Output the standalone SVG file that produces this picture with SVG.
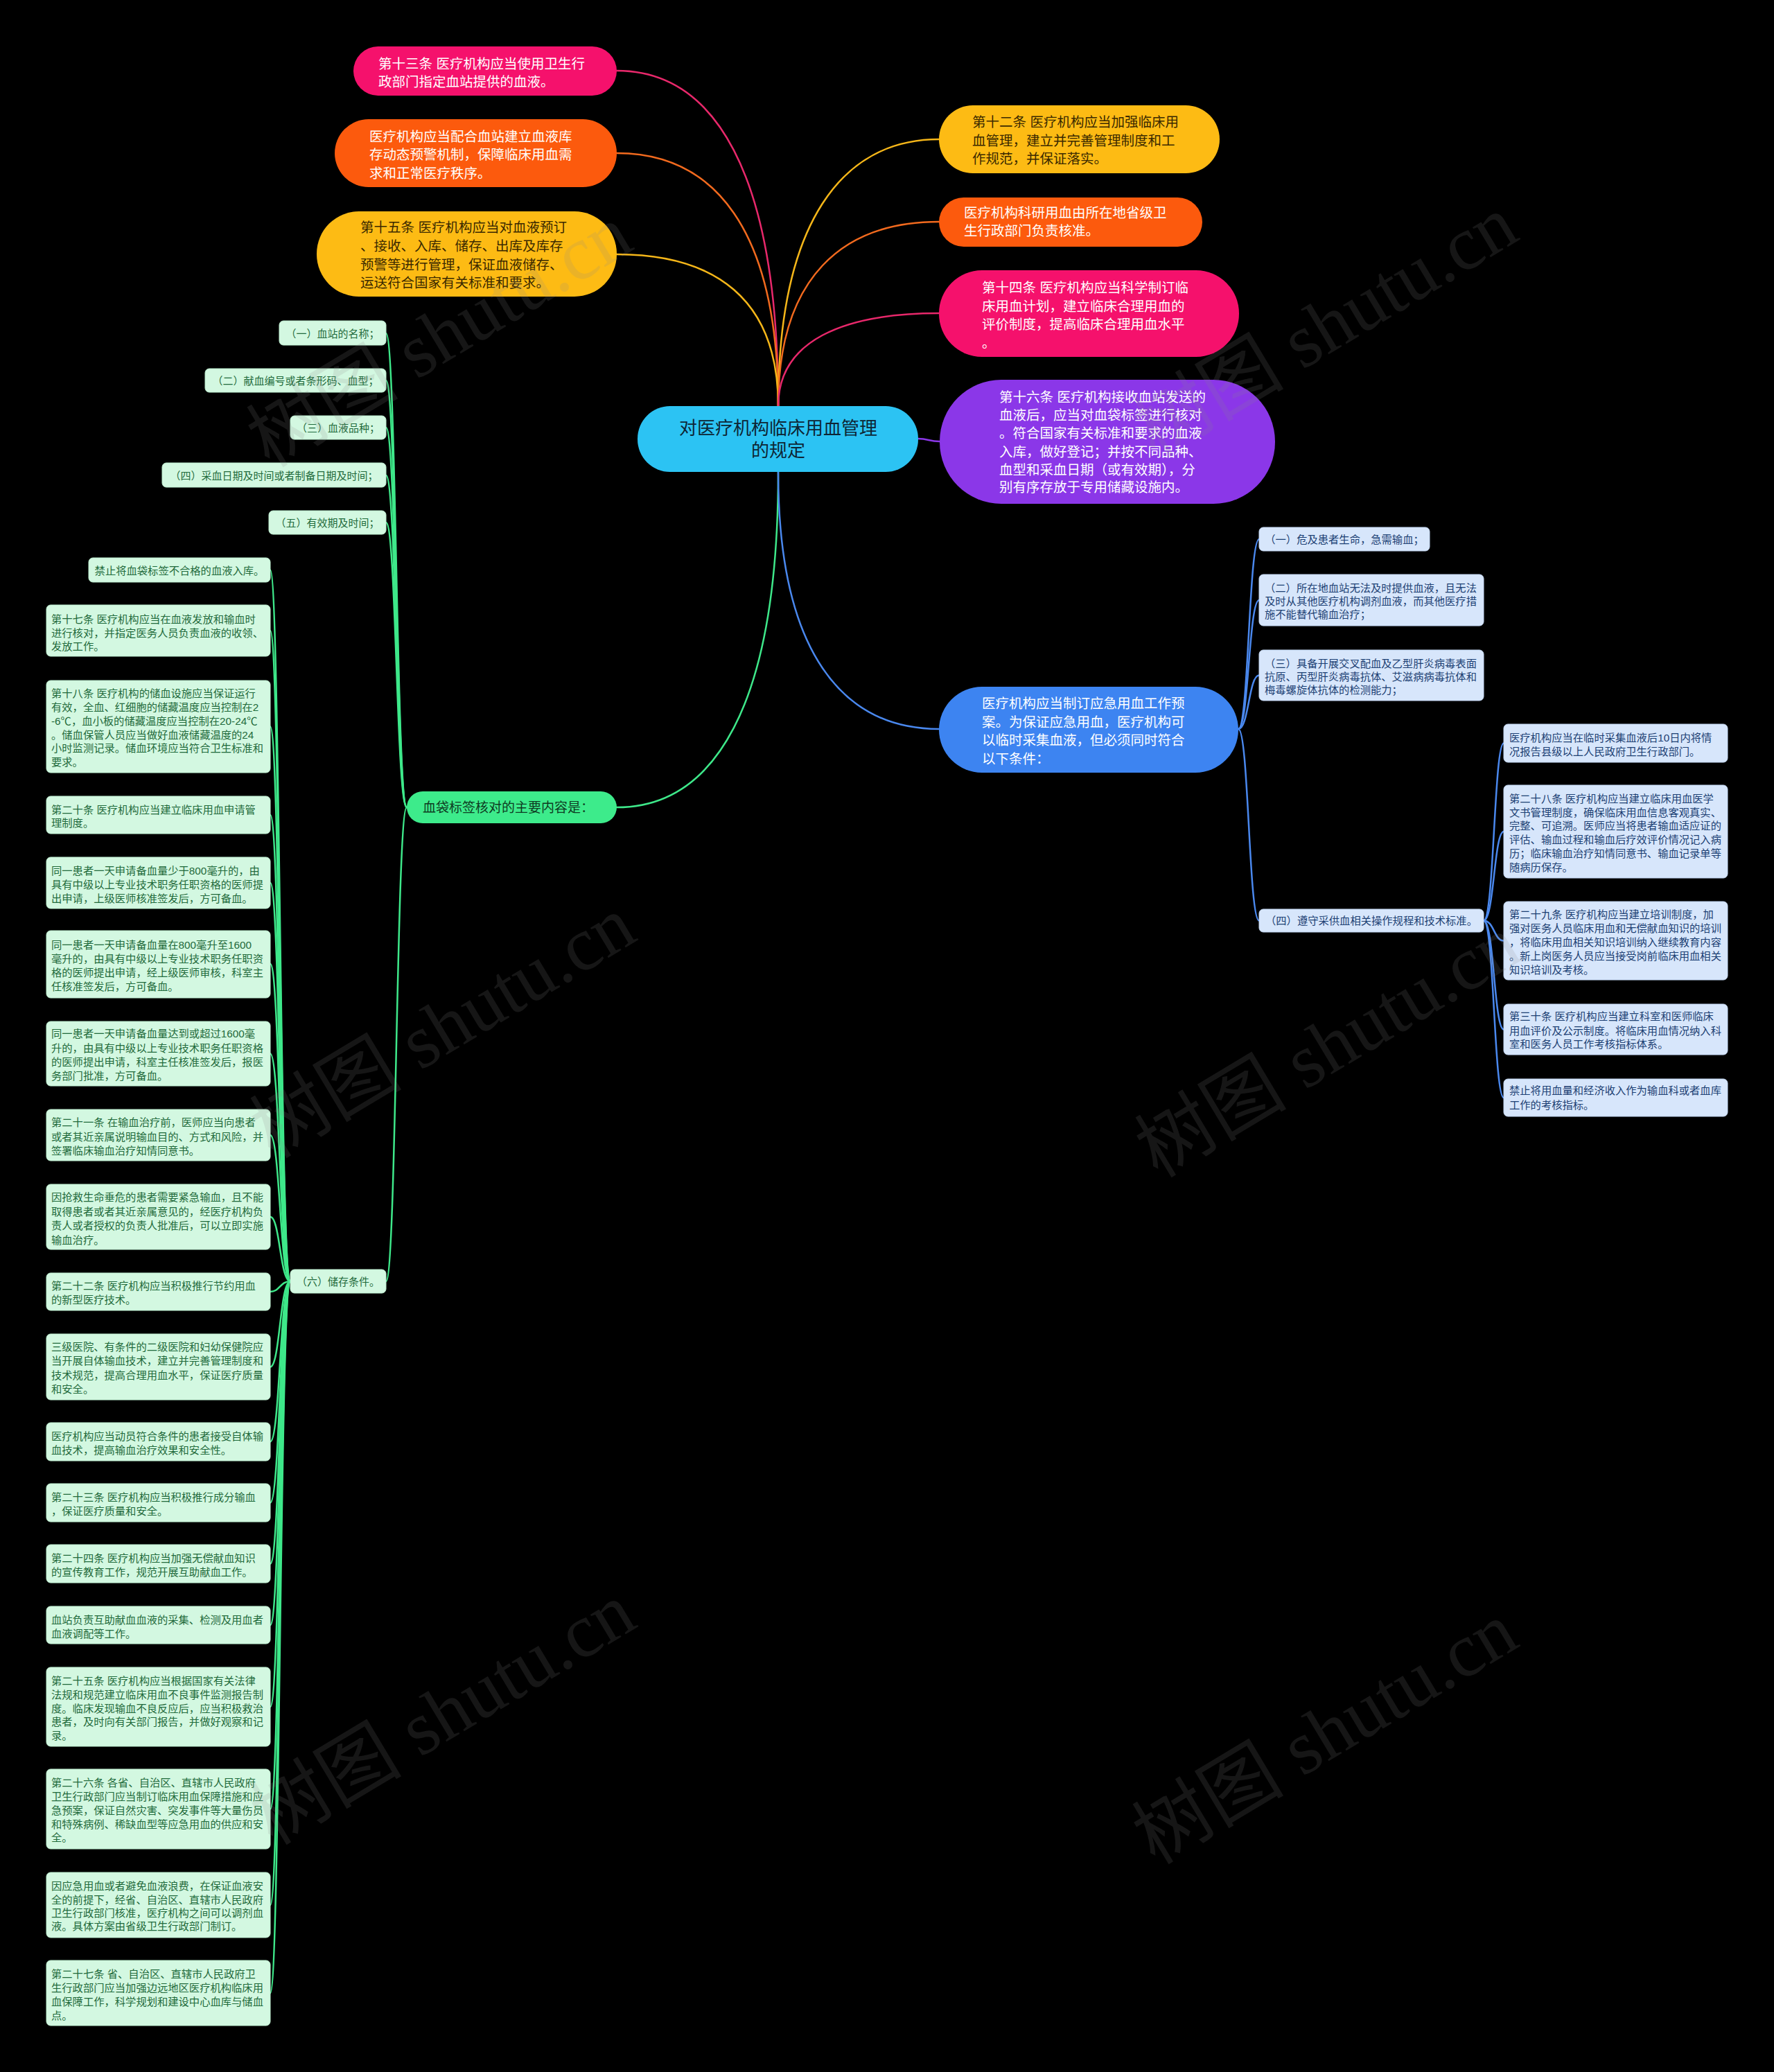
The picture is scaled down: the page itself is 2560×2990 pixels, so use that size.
<svg xmlns="http://www.w3.org/2000/svg" width="2560" height="2990" viewBox="0 0 2560 2990">
<style>
text{font-family:'Liberation Sans','Noto Sans CJK SC',sans-serif}
.big{font-size:19.5px}
.sm{font-size:15.3px}
.w{fill:#ffffff}
.dk{fill:#3a2900}
.gt{fill:#1f6a3b}
.bt{fill:#1c3f73}
.mint{fill:#d3f8e1;stroke:#bff0d2;stroke-width:1}
.lb{fill:#d7e6fb;stroke:#c3d7f3;stroke-width:1}
.c{fill:none;stroke-width:2.5;stroke-linecap:round}
.cg{stroke:#3ee88a}
.cb{stroke:#4a88ee}
.wm{font-family:'Liberation Serif','Noto Sans CJK SC',serif;font-size:110px;fill:#8a8a8a;opacity:0.16}
</style>
<rect x="0" y="0" width="2560" height="2990" fill="#000000"/>

<g id="connectors">
<path class="c" stroke="#e8286b" d="M1123,586 C1123,247 1030,102 890,102"/>
<path class="c" stroke="#f26a1e" d="M1123,586 C1123,330 1030,221 890,221"/>
<path class="c" stroke="#f5b619" d="M1123,586 C1123,430 1030,367 890,367"/>
<path class="c" stroke="#f5b619" d="M1123,586 C1123,320 1216,201 1355,201"/>
<path class="c" stroke="#f26a1e" d="M1123,586 C1123,400 1216,320 1355,320"/>
<path class="c" stroke="#e8286b" d="M1123,586 C1123,492 1216,452 1355,452"/>
<path class="c" stroke="#8b37e8" d="M1325,633 C1340,633 1340,637 1356,637"/>
<path class="c cg" d="M1123,681 C1123,1020 1030,1165 890,1165"/>
<path class="c cb" d="M1123,681 C1123,941 1216,1052 1355,1052"/>

<path class="c cg" d="M587,1165 C572,1165 572,481 557,481"/>
<path class="c cg" d="M587,1165 C572,1165 572,549 557,549"/>
<path class="c cg" d="M587,1165 C572,1165 572,617 557,617"/>
<path class="c cg" d="M587,1165 C572,1165 572,686 557,686"/>
<path class="c cg" d="M587,1165 C572,1165 572,754 557,754"/>
<path class="c cg" d="M587,1165 C572,1165 572,1849 557,1849"/>

<path class="c cg" d="M419,1849 C404,1849 404,822.5 390,822.5"/>
<path class="c cg" d="M419,1849 C404,1849 404,910 390,910"/>
<path class="c cg" d="M419,1849 C404,1849 404,1048.5 390,1048.5"/>
<path class="c cg" d="M419,1849 C404,1849 404,1176 390,1176"/>
<path class="c cg" d="M419,1849 C404,1849 404,1274 390,1274"/>
<path class="c cg" d="M419,1849 C404,1849 404,1391 390,1391"/>
<path class="c cg" d="M419,1849 C404,1849 404,1520.5 390,1520.5"/>
<path class="c cg" d="M419,1849 C404,1849 404,1638 390,1638"/>
<path class="c cg" d="M419,1849 C404,1849 404,1756 390,1756"/>
<path class="c cg" d="M419,1849 C404,1849 404,1864 390,1864"/>
<path class="c cg" d="M419,1849 C404,1849 404,1972.5 390,1972.5"/>
<path class="c cg" d="M419,1849 C404,1849 404,2080.5 390,2080.5"/>
<path class="c cg" d="M419,1849 C404,1849 404,2168.5 390,2168.5"/>
<path class="c cg" d="M419,1849 C404,1849 404,2256.5 390,2256.5"/>
<path class="c cg" d="M419,1849 C404,1849 404,2345 390,2345"/>
<path class="c cg" d="M419,1849 C404,1849 404,2463 390,2463"/>
<path class="c cg" d="M419,1849 C404,1849 404,2610.5 390,2610.5"/>
<path class="c cg" d="M419,1849 C404,1849 404,2749 390,2749"/>
<path class="c cg" d="M419,1849 C404,1849 404,2876 390,2876"/>

<path class="c cb" d="M1787,1052 C1802,1052 1802,778 1817,778"/>
<path class="c cb" d="M1787,1052 C1802,1052 1802,866 1817,866"/>
<path class="c cb" d="M1787,1052 C1802,1052 1802,974.5 1817,974.5"/>
<path class="c cb" d="M1787,1052 C1802,1052 1802,1328.5 1817,1328.5"/>

<path class="c cb" d="M2141,1328.5 C2156,1328.5 2156,1072.5 2170,1072.5"/>
<path class="c cb" d="M2141,1328.5 C2156,1328.5 2156,1200 2170,1200"/>
<path class="c cb" d="M2141,1328.5 C2156,1328.5 2156,1357.5 2170,1357.5"/>
<path class="c cb" d="M2141,1328.5 C2156,1328.5 2156,1485.5 2170,1485.5"/>
<path class="c cb" d="M2141,1328.5 C2156,1328.5 2156,1584 2170,1584"/>
</g>

<g id="center">
<rect x="920" y="586" width="405" height="95" rx="47" fill="#2cc3f3"/>
<text x="1123" text-anchor="middle" style="font-size:26px" fill="#0e2534"><tspan x="1123" y="627">对医疗机构临床用血管理</tspan><tspan x="1123" y="659">的规定</tspan></text>
</g>

<g id="n13">
<rect x="510" y="67" width="380" height="71" rx="35.5" fill="#f5116c"/>
<text class="big w"><tspan x="546" y="99">第十三条 医疗机构应当使用卫生行</tspan><tspan x="546" y="125">政部门指定血站提供的血液。</tspan></text>
</g>
<g id="n-pei">
<rect x="483" y="172" width="407" height="98" rx="49" fill="#fc5a0d"/>
<text class="big w"><tspan x="533" y="204">医疗机构应当配合血站建立血液库</tspan><tspan x="533" y="230">存动态预警机制，保障临床用血需</tspan><tspan x="533" y="257">求和正常医疗秩序。</tspan></text>
</g>
<g id="n15">
<rect x="457" y="305" width="433" height="123" rx="61" fill="#fdbb14"/>
<text class="big dk"><tspan x="520" y="335">第十五条 医疗机构应当对血液预订</tspan><tspan x="520" y="362">、接收、入库、储存、出库及库存</tspan><tspan x="520" y="389">预警等进行管理，保证血液储存、</tspan><tspan x="520" y="415">运送符合国家有关标准和要求。</tspan></text>
</g>
<g id="n12">
<rect x="1355" y="152" width="405" height="98" rx="49" fill="#fdbb14"/>
<text class="big dk"><tspan x="1403" y="183">第十二条 医疗机构应当加强临床用</tspan><tspan x="1403" y="210">血管理，建立并完善管理制度和工</tspan><tspan x="1403" y="236">作规范，并保证落实。</tspan></text>
</g>
<g id="n-keyan">
<rect x="1355" y="285" width="380" height="71" rx="35.5" fill="#fc5a0d"/>
<text class="big w"><tspan x="1391" y="314">医疗机构科研用血由所在地省级卫</tspan><tspan x="1391" y="340">生行政部门负责核准。</tspan></text>
</g>
<g id="n14">
<rect x="1355" y="390" width="433" height="125" rx="62" fill="#f5116c"/>
<text class="big w"><tspan x="1417" y="422">第十四条 医疗机构应当科学制订临</tspan><tspan x="1417" y="449">床用血计划，建立临床合理用血的</tspan><tspan x="1417" y="475">评价制度，提高临床合理用血水平</tspan><tspan x="1417" y="502">。</tspan></text>
</g>
<g id="n16">
<rect x="1356" y="548" width="484" height="179" rx="89" fill="#8b37e8"/>
<text class="big w"><tspan x="1442" y="580">第十六条 医疗机构接收血站发送的</tspan><tspan x="1442" y="606">血液后，应当对血袋标签进行核对</tspan><tspan x="1442" y="632">。符合国家有关标准和要求的血液</tspan><tspan x="1442" y="659">入库，做好登记；并按不同品种、</tspan><tspan x="1442" y="685">血型和采血日期（或有效期），分</tspan><tspan x="1442" y="710">别有序存放于专用储藏设施内。</tspan></text>
</g>

<g id="n-label">
<rect x="587" y="1142" width="303" height="46" rx="23" fill="#3deb8b"/>
<text x="610" y="1172" style="font-size:19px" fill="#0e3b22">血袋标签核对的主要内容是：</text>
</g>
<g id="n-emergency">
<rect x="1355" y="991" width="432" height="124" rx="62" fill="#3d84f1"/>
<text class="big w"><tspan x="1417" y="1022">医疗机构应当制订应急用血工作预</tspan><tspan x="1417" y="1049">案。为保证应急用血，医疗机构可</tspan><tspan x="1417" y="1075">以临时采集血液，但必须同时符合</tspan><tspan x="1417" y="1102">以下条件：</tspan></text>
</g>

<g id="s1"><rect class="mint" x="403" y="463" width="154" height="35" rx="6"/><text class="gt" style="font-size:15px" x="480" y="486.5" text-anchor="middle">（一）血站的名称；</text></g>
<g id="s2"><rect class="mint" x="296" y="532" width="261" height="34" rx="6"/><text class="gt" style="font-size:15px" x="426.5" y="554.5" text-anchor="middle">（二）献血编号或者条形码、血型；</text></g>
<g id="s3"><rect class="mint" x="419" y="600" width="138" height="34" rx="6"/><text class="gt" style="font-size:15px" x="488" y="622.5" text-anchor="middle">（三）血液品种；</text></g>
<g id="s4"><rect class="mint" x="234" y="668" width="323" height="35" rx="6"/><text class="gt" style="font-size:15px" x="395.5" y="691.5" text-anchor="middle">（四）采血日期及时间或者制备日期及时间；</text></g>
<g id="s5"><rect class="mint" x="388" y="737" width="169" height="34" rx="6"/><text class="gt" style="font-size:15px" x="472.5" y="759.5" text-anchor="middle">（五）有效期及时间；</text></g>
<g id="s6"><rect class="mint" x="419" y="1832" width="138" height="34" rx="6"/><text class="gt" style="font-size:15px" x="488" y="1854.5" text-anchor="middle">（六）储存条件。</text></g>

<g id="c1"><rect class="mint" x="128" y="805" width="262" height="35" rx="6"/><text class="sm gt" x="259" y="828.5" text-anchor="middle">禁止将血袋标签不合格的血液入库。</text></g>
<g id="c2"><rect class="mint" x="67" y="873" width="323" height="74" rx="6"/><text class="sm gt"><tspan x="74" y="898.5">第十七条 医疗机构应当在血液发放和输血时</tspan><tspan x="74" y="918.5">进行核对，并指定医务人员负责血液的收领、</tspan><tspan x="74" y="937.5">发放工作。</tspan></text></g>
<g id="c3"><rect class="mint" x="67" y="982" width="323" height="133" rx="6"/><text class="sm gt"><tspan x="74" y="1005.5">第十八条 医疗机构的储血设施应当保证运行</tspan><tspan x="74" y="1025.5">有效，全血、红细胞的储藏温度应当控制在2</tspan><tspan x="74" y="1045.5">-6℃，血小板的储藏温度应当控制在20-24℃</tspan><tspan x="74" y="1065.5">。储血保管人员应当做好血液储藏温度的24</tspan><tspan x="74" y="1084.5">小时监测记录。储血环境应当符合卫生标准和</tspan><tspan x="74" y="1104.5">要求。</tspan></text></g>
<g id="c4"><rect class="mint" x="67" y="1149" width="323" height="54" rx="6"/><text class="sm gt"><tspan x="74" y="1173.5">第二十条 医疗机构应当建立临床用血申请管</tspan><tspan x="74" y="1192.5">理制度。</tspan></text></g>
<g id="c5"><rect class="mint" x="67" y="1237" width="323" height="74" rx="6"/><text class="sm gt"><tspan x="74" y="1261.5">同一患者一天申请备血量少于800毫升的，由</tspan><tspan x="74" y="1281.5">具有中级以上专业技术职务任职资格的医师提</tspan><tspan x="74" y="1301.5">出申请，上级医师核准签发后，方可备血。</tspan></text></g>
<g id="c6"><rect class="mint" x="67" y="1343" width="323" height="97" rx="6"/><text class="sm gt"><tspan x="74" y="1368.5">同一患者一天申请备血量在800毫升至1600</tspan><tspan x="74" y="1388.5">毫升的，由具有中级以上专业技术职务任职资</tspan><tspan x="74" y="1408.5">格的医师提出申请，经上级医师审核，科室主</tspan><tspan x="74" y="1428.5">任核准签发后，方可备血。</tspan></text></g>
<g id="c7"><rect class="mint" x="67" y="1474" width="323" height="93" rx="6"/><text class="sm gt"><tspan x="74" y="1496.5">同一患者一天申请备血量达到或超过1600毫</tspan><tspan x="74" y="1517.5">升的，由具有中级以上专业技术职务任职资格</tspan><tspan x="74" y="1537.5">的医师提出申请，科室主任核准签发后，报医</tspan><tspan x="74" y="1557.5">务部门批准，方可备血。</tspan></text></g>
<g id="c8"><rect class="mint" x="67" y="1601" width="323" height="74" rx="6"/><text class="sm gt"><tspan x="74" y="1624.5">第二十一条 在输血治疗前，医师应当向患者</tspan><tspan x="74" y="1645.5">或者其近亲属说明输血目的、方式和风险，并</tspan><tspan x="74" y="1665.5">签署临床输血治疗知情同意书。</tspan></text></g>
<g id="c9"><rect class="mint" x="67" y="1709" width="323" height="94" rx="6"/><text class="sm gt"><tspan x="74" y="1732.5">因抢救生命垂危的患者需要紧急输血，且不能</tspan><tspan x="74" y="1753.5">取得患者或者其近亲属意见的，经医疗机构负</tspan><tspan x="74" y="1773.5">责人或者授权的负责人批准后，可以立即实施</tspan><tspan x="74" y="1794.5">输血治疗。</tspan></text></g>
<g id="c10"><rect class="mint" x="67" y="1837" width="323" height="54" rx="6"/><text class="sm gt"><tspan x="74" y="1860.5">第二十二条 医疗机构应当积极推行节约用血</tspan><tspan x="74" y="1880.5">的新型医疗技术。</tspan></text></g>
<g id="c11"><rect class="mint" x="67" y="1925" width="323" height="95" rx="6"/><text class="sm gt"><tspan x="74" y="1948.5">三级医院、有条件的二级医院和妇幼保健院应</tspan><tspan x="74" y="1968.5">当开展自体输血技术，建立并完善管理制度和</tspan><tspan x="74" y="1989.5">技术规范，提高合理用血水平，保证医疗质量</tspan><tspan x="74" y="2009.5">和安全。</tspan></text></g>
<g id="c12"><rect class="mint" x="67" y="2053" width="323" height="55" rx="6"/><text class="sm gt"><tspan x="74" y="2077.5">医疗机构应当动员符合条件的患者接受自体输</tspan><tspan x="74" y="2097.5">血技术，提高输血治疗效果和安全性。</tspan></text></g>
<g id="c13"><rect class="mint" x="67" y="2141" width="323" height="55" rx="6"/><text class="sm gt"><tspan x="74" y="2165.5">第二十三条 医疗机构应当积极推行成分输血</tspan><tspan x="74" y="2185.5">，保证医疗质量和安全。</tspan></text></g>
<g id="c14"><rect class="mint" x="67" y="2229" width="323" height="55" rx="6"/><text class="sm gt"><tspan x="74" y="2253.5">第二十四条 医疗机构应当加强无偿献血知识</tspan><tspan x="74" y="2273.5">的宣传教育工作，规范开展互助献血工作。</tspan></text></g>
<g id="c15"><rect class="mint" x="67" y="2318" width="323" height="54" rx="6"/><text class="sm gt"><tspan x="74" y="2342.5">血站负责互助献血血液的采集、检测及用血者</tspan><tspan x="74" y="2362.5">血液调配等工作。</tspan></text></g>
<g id="c16"><rect class="mint" x="67" y="2406" width="323" height="114" rx="6"/><text class="sm gt"><tspan x="74" y="2430.5">第二十五条 医疗机构应当根据国家有关法律</tspan><tspan x="74" y="2450.5">法规和规范建立临床用血不良事件监测报告制</tspan><tspan x="74" y="2470.5">度。临床发现输血不良反应后，应当积极救治</tspan><tspan x="74" y="2489.5">患者，及时向有关部门报告，并做好观察和记</tspan><tspan x="74" y="2509.5">录。</tspan></text></g>
<g id="c17"><rect class="mint" x="67" y="2553" width="323" height="115" rx="6"/><text class="sm gt"><tspan x="74" y="2577.5">第二十六条 各省、自治区、直辖市人民政府</tspan><tspan x="74" y="2597.5">卫生行政部门应当制订临床用血保障措施和应</tspan><tspan x="74" y="2617.5">急预案，保证自然灾害、突发事件等大量伤员</tspan><tspan x="74" y="2637.5">和特殊病例、稀缺血型等应急用血的供应和安</tspan><tspan x="74" y="2656.5">全。</tspan></text></g>
<g id="c18"><rect class="mint" x="67" y="2702" width="323" height="94" rx="6"/><text class="sm gt"><tspan x="74" y="2726.5">因应急用血或者避免血液浪费，在保证血液安</tspan><tspan x="74" y="2746.5">全的前提下，经省、自治区、直辖市人民政府</tspan><tspan x="74" y="2765.5">卫生行政部门核准，医疗机构之间可以调剂血</tspan><tspan x="74" y="2784.5">液。具体方案由省级卫生行政部门制订。</tspan></text></g>
<g id="c19"><rect class="mint" x="67" y="2829" width="323" height="94" rx="6"/><text class="sm gt"><tspan x="74" y="2853.5">第二十七条 省、自治区、直辖市人民政府卫</tspan><tspan x="74" y="2873.5">生行政部门应当加强边远地区医疗机构临床用</tspan><tspan x="74" y="2893.5">血保障工作，科学规划和建设中心血库与储血</tspan><tspan x="74" y="2913.5">点。</tspan></text></g>

<g id="b1"><rect class="lb" x="1817" y="761" width="246" height="34" rx="6"/><text class="sm bt" x="1940" y="783.5" text-anchor="middle">（一）危及患者生命，急需输血；</text></g>
<g id="b2"><rect class="lb" x="1817" y="829" width="324" height="74" rx="6"/><text class="sm bt"><tspan x="1825" y="853.5">（二）所在地血站无法及时提供血液，且无法</tspan><tspan x="1825" y="872.5">及时从其他医疗机构调剂血液，而其他医疗措</tspan><tspan x="1825" y="891.5">施不能替代输血治疗；</tspan></text></g>
<g id="b3"><rect class="lb" x="1817" y="938" width="324" height="73" rx="6"/><text class="sm bt"><tspan x="1825" y="962.5">（三）具备开展交叉配血及乙型肝炎病毒表面</tspan><tspan x="1825" y="981.5">抗原、丙型肝炎病毒抗体、艾滋病病毒抗体和</tspan><tspan x="1825" y="1000.5">梅毒螺旋体抗体的检测能力；</tspan></text></g>
<g id="b4"><rect class="lb" x="1817" y="1312" width="324" height="33" rx="6"/><text class="sm bt" x="1979" y="1333.5" text-anchor="middle">（四）遵守采供血相关操作规程和技术标准。</text></g>

<g id="f1"><rect class="lb" x="2170" y="1045" width="323" height="55" rx="6"/><text class="sm bt"><tspan x="2178" y="1069.5">医疗机构应当在临时采集血液后10日内将情</tspan><tspan x="2178" y="1089.5">况报告县级以上人民政府卫生行政部门。</tspan></text></g>
<g id="f2"><rect class="lb" x="2170" y="1133" width="323" height="134" rx="6"/><text class="sm bt"><tspan x="2178" y="1157.5">第二十八条 医疗机构应当建立临床用血医学</tspan><tspan x="2178" y="1177.5">文书管理制度，确保临床用血信息客观真实、</tspan><tspan x="2178" y="1196.5">完整、可追溯。医师应当将患者输血适应证的</tspan><tspan x="2178" y="1216.5">评估、输血过程和输血后疗效评价情况记入病</tspan><tspan x="2178" y="1236.5">历；临床输血治疗知情同意书、输血记录单等</tspan><tspan x="2178" y="1256.5">随病历保存。</tspan></text></g>
<g id="f3"><rect class="lb" x="2170" y="1301" width="323" height="113" rx="6"/><text class="sm bt"><tspan x="2178" y="1324.5">第二十九条 医疗机构应当建立培训制度，加</tspan><tspan x="2178" y="1344.5">强对医务人员临床用血和无偿献血知识的培训</tspan><tspan x="2178" y="1364.5">，将临床用血相关知识培训纳入继续教育内容</tspan><tspan x="2178" y="1384.5">。新上岗医务人员应当接受岗前临床用血相关</tspan><tspan x="2178" y="1404.5">知识培训及考核。</tspan></text></g>
<g id="f4"><rect class="lb" x="2170" y="1449" width="323" height="73" rx="6"/><text class="sm bt"><tspan x="2178" y="1471.5">第三十条 医疗机构应当建立科室和医师临床</tspan><tspan x="2178" y="1492.5">用血评价及公示制度。将临床用血情况纳入科</tspan><tspan x="2178" y="1511.5">室和医务人员工作考核指标体系。</tspan></text></g>
<g id="f5"><rect class="lb" x="2170" y="1557" width="323" height="54" rx="6"/><text class="sm bt"><tspan x="2178" y="1578.5">禁止将用血量和经济收入作为输血科或者血库</tspan><tspan x="2178" y="1599.5">工作的考核指标。</tspan></text></g>

<g id="watermarks">
<text class="wm" x="643" y="520" text-anchor="middle" transform="rotate(-31 643 500)">树图 shutu.cn</text>
<text class="wm" x="1921" y="506" text-anchor="middle" transform="rotate(-31 1921 486)">树图 shutu.cn</text>
<text class="wm" x="648" y="1517" text-anchor="middle" transform="rotate(-31 648 1497)">树图 shutu.cn</text>
<text class="wm" x="1925" y="1545" text-anchor="middle" transform="rotate(-31 1925 1525)">树图 shutu.cn</text>
<text class="wm" x="648" y="2508" text-anchor="middle" transform="rotate(-31 648 2488)">树图 shutu.cn</text>
<text class="wm" x="1921" y="2536" text-anchor="middle" transform="rotate(-31 1921 2516)">树图 shutu.cn</text>
</g>
</svg>
